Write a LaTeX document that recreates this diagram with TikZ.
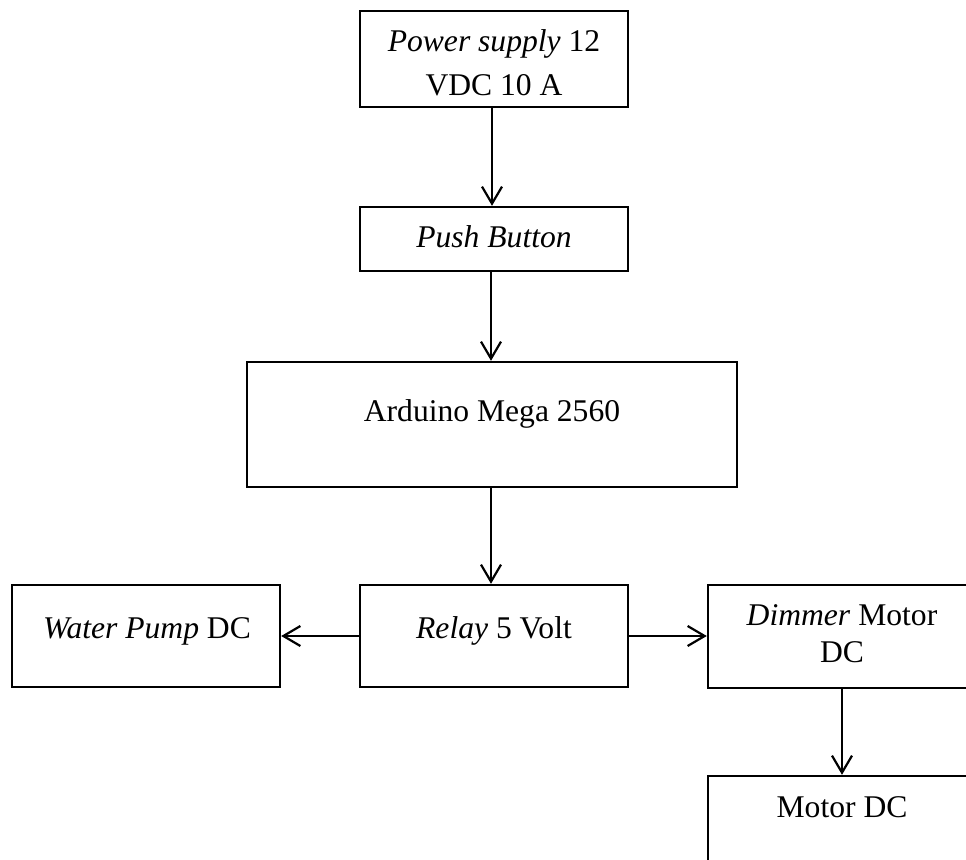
\documentclass[tikz,border=0pt]{standalone}
\usepackage{fontspec}
\setmainfont{Liberation Serif}
\usetikzlibrary{arrows.meta}
\begin{document}
\begin{tikzpicture}[x=1pt,y=-1pt,
  box/.style={draw,line width=2.4pt,rectangle,inner sep=0pt,minimum width=268pt},
  lbl/.style={anchor=base,inner sep=0pt,font=\fontsize{31.6}{36}\selectfont},
  conn/.style={line width=2.2pt,-{Straight Barb[length=17pt,width=20pt,line width=2.2pt]}}]
\clip (0,0) rectangle (966,859);
\fill[white] (0,0) rectangle (966,859);
% boxes
\node[box,minimum height=96pt] (ps) at (494,59) {};
\node[box,minimum height=64pt] (pb) at (494,239) {};
\node[box,minimum width=490pt,minimum height=125pt] (ard) at (492,424.5) {};
\node[box,minimum height=102pt] (rel) at (494,636) {};
\node[box,minimum height=102pt] (wp) at (146,636) {};
\node[box,minimum height=103pt] (dim) at (842,636.5) {};
\node[box,minimum height=102pt] (mot) at (842,827) {};
% texts
\node[lbl] (pst1) at (494,52) {\textit{Power supply} 12};
\node[lbl] (pst2) at (494,95) {VDC 10 A};
\node[lbl] (pbt) at (494,247) {\textit{Push Button}};
\node[lbl] (ardt) at (492,421) {Arduino Mega 2560};
\node[lbl] (relt) at (494,638) {\textit{Relay} 5 Volt};
\node[lbl] (wpt) at (147,638) {\textit{Water Pump} DC};
\node[lbl] (dimt1) at (842,625) {\textit{Dimmer} Motor};
\node[lbl] (dimt2) at (842,662) {DC};
\node[lbl] (mott) at (842,817) {Motor DC};
% connectors
\draw[conn] (ps.south -| 492,0) -- (pb.north -| 492,0);
\draw[conn] (pb.south -| 491,0) -- (ard.north -| 491,0);
\draw[conn] (ard.south -| 491,0) -- (rel.north -| 491,0);
\draw[conn] (rel.west) -- (wp.east);
\draw[conn] (rel.east) -- (dim.west |- rel.east);
\draw[conn] (dim.south) -- (mot.north);
\end{tikzpicture}
\end{document}
